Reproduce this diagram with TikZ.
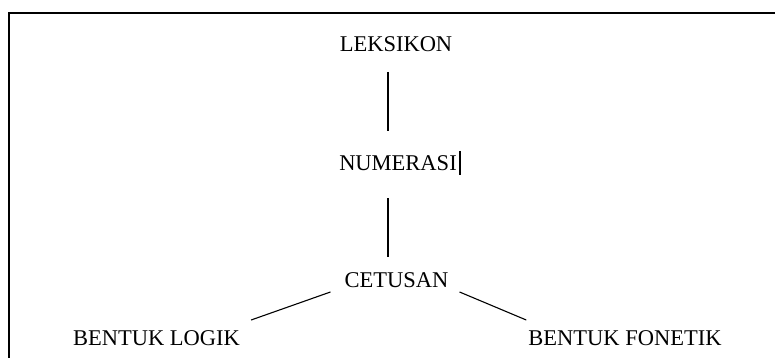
\documentclass[tikz,border=0pt]{standalone}
\usepackage{fontspec}
\setmainfont{Liberation Serif}
\begin{document}
\begin{tikzpicture}[x=1pt,y=-1pt,
  lbl/.style={inner sep=0pt,anchor=base,font=\fontsize{22.5}{27}\selectfont},
  conn/.style={line width=1.1pt}]
\useasboundingbox (0,0) rectangle (775,358);
\clip (0,0) rectangle (775,358);
\fill[white] (0,0) rectangle (775,358);
\draw[line width=2pt] (9,13.3) rectangle (800,380);
\node[lbl] (lek) at (396,52) {LEKSIKON};
\node[lbl] (num) at (398,170) {NUMERASI};
\node[lbl] (cet) at (396.5,287) {CETUSAN};
\node[lbl] (log) at (156.5,345) {BENTUK LOGIK};
\node[lbl] (fon) at (625,345) {BENTUK FONETIK};
\draw[line width=2pt] ([shift={(3,-19)}]num.base east) -- ([shift={(3,5)}]num.base east);
\draw[conn] ([shift={(-8,20)}]lek.base) -- ([shift={(-10,-39)}]num.base);
\draw[conn] ([shift={(-10,28)}]num.base) -- ([shift={(-8.5,-30)}]cet.base);
\draw[conn] ([shift={(-14,5)}]cet.base west) -- ([shift={(11,-25)}]log.base east);
\draw[conn] ([shift={(11,5)}]cet.base east) -- ([shift={(-2,-25)}]fon.base west);
\end{tikzpicture}
\end{document}
